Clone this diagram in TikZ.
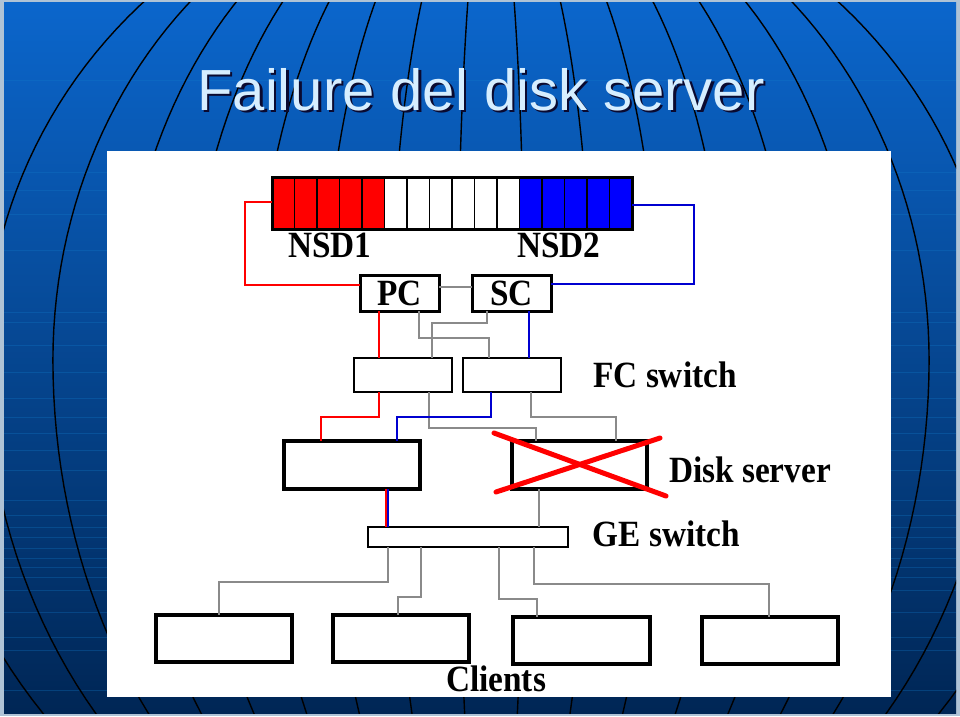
\documentclass[tikz,border=0pt]{standalone}
\usepackage{fontspec}
\usepackage{xcolor}
\usetikzlibrary{arrows.meta}
\newfontfamily\titlefont{Liberation Sans}
\newfontfamily\lblfont[FakeStretch=0.9]{Liberation Serif}
\definecolor{slidetop}{HTML}{0B66CC}
\definecolor{slidebot}{HTML}{002655}
\definecolor{slideedge}{HTML}{AFC3D6}
\definecolor{titlecol}{HTML}{D6EEFF}
\definecolor{titleshade}{HTML}{0A0A30}
\definecolor{wiregray}{HTML}{8A8A8A}
\definecolor{nsdred}{HTML}{FF0000}
\definecolor{nsdblue}{HTML}{0000FF}
\definecolor{wireblue}{HTML}{0000D0}
\newcommand\shadowtext[1]{\rlap{\raisebox{-2.5pt}{\hspace{2.5pt}\textcolor{titleshade}{#1}}}\textcolor{titlecol}{#1}}

\begin{document}
\begin{tikzpicture}[
    x=1pt, y=-1pt,
    every node/.style={inner sep=0pt, outer sep=0pt},
    box/.style={rectangle, draw=black, fill=white},
    cell/.style={rectangle, draw=black, line width=1.8pt, minimum width=22.5pt, minimum height=52pt},
    lbl/.style={font=\lblfont\bfseries\fontsize{37}{40}\selectfont},
    graywire/.style={draw=wiregray, line width=2.4pt},
    redwire/.style={draw=nsdred, line width=2pt},
    bluewire/.style={draw=wireblue, line width=2pt},
    meridian/.style={draw=black, line width=1.4pt},
    scanline/.style={draw=cyan!60!blue, opacity=0.3, line width=0.8pt}
]
\useasboundingbox (0,0) rectangle (960,716);

% slide background
\fill[slideedge] (0,0) rectangle (960,716);
\shade[top color=slidetop, bottom color=slidebot] (4,2) rectangle (956,713);
\begin{scope}
\clip (4,2) rectangle (956,713);
\foreach \y in {80,172,190,214,250,312,322,345,372,398,417,433,450,470,500,515,527,537,548,558,567,577,590,612,637,650,690}
  \draw[scanline] (4,\y) -- (956,\y);
% upper and lower halves of the globe lines
\foreach \k in {-7.5,-6.5,...,7.5}
  \draw[meridian] plot[domain=-90:0, samples=50, variable=\t]
    ({491+\k*67.4*cos(\t)}, {360+493*sin(\t)});
\foreach \k in {-8.5,-7.5,...,8.5}
  \draw[meridian] plot[domain=0:90, samples=50, variable=\t]
    ({491+\k*67.4*cos(\t)}, {360+567*sin(\t)});
\end{scope}

% title
\node[anchor=base, font=\titlefont\fontsize{58}{60}\selectfont] (title) at (481,110) {\shadowtext{Failure del disk server}};

% white panel
\node[fill=white, minimum width=784pt, minimum height=546pt] (panel) at (499,424) {};

% disk array
\foreach \i in {0,...,4}
  \node[cell, fill=nsdred] (r\i) at ({272+22.5*(\i+0.5)},203.5) {};
\foreach \i in {5,...,10}
  \node[cell, fill=white] (w\i) at ({272+22.5*(\i+0.5)},203.5) {};
\foreach \i in {11,...,15}
  \node[cell, fill=nsdblue] (b\i) at ({272+22.5*(\i+0.5)},203.5) {};
\node[draw=black, line width=3pt, minimum width=360pt, minimum height=52pt] (nsd) at (452,203.5) {};

\node[lbl] (nsd1) at (330,245) {NSD1};
\node[lbl] (nsd2) at (559,245) {NSD2};

% controllers
\node[box, lbl, line width=3pt, minimum width=79pt, minimum height=36pt] (pc) at (399.5,293) {PC};
\node[box, lbl, line width=3pt, minimum width=79pt, minimum height=36pt] (sc) at (511.5,293) {SC};

% FC switches
\node[box, line width=2.4pt, minimum width=98pt, minimum height=34pt] (fc1) at (403,375) {};
\node[box, line width=2.4pt, minimum width=98pt, minimum height=34pt] (fc2) at (512,375) {};
\node[lbl] (fclbl) at (665,375) {FC switch};

% disk servers
\node[box, line width=4.5pt, minimum width=136pt, minimum height=48pt] (ds1) at (352,465) {};
\node[box, line width=4.5pt, minimum width=135pt, minimum height=48pt] (ds2) at (579.5,465) {};
\node[lbl] (dslbl) at (750,470) {Disk server};

% GE switch
\node[box, line width=2pt, minimum width=200pt, minimum height=20pt] (ge) at (468,537) {};
\node[lbl] (gelbl) at (666.5,534) {GE switch};

% clients
\node[box, line width=4.5pt, minimum width=136pt, minimum height=47pt] (c1) at (224,638.5) {};
\node[box, line width=4.5pt, minimum width=136pt, minimum height=47pt] (c2) at (401,638.5) {};
\node[box, line width=4.5pt, minimum width=137pt, minimum height=47pt] (c3) at (581.5,640.5) {};
\node[box, line width=4.5pt, minimum width=136pt, minimum height=47pt] (c4) at (770,640.5) {};
\node[lbl] (clbl) at (496,679) {Clients};

% array to controllers
\draw[redwire] ([yshift=-24.5pt]nsd.north west) -- ++(-27,0) |- ([yshift=8pt]pc.west);
\draw[bluewire] ([yshift=-27.5pt]nsd.north east) -- ++(62,0) |- ([yshift=9pt]sc.east);
\draw[graywire] ([yshift=6pt]pc.east) -- ([yshift=6pt]sc.west);

% controllers to FC switches
\draw[redwire] ([xshift=-20.5pt]pc.south) -- ([xshift=-24pt]fc1.north);
\draw[graywire] ([xshift=19.5pt]pc.south) |- ([xshift=-23pt,yshift=20pt]fc2.north) -- ([xshift=-23pt]fc2.north);
\draw[graywire] ([xshift=-24.5pt]sc.south) |- ([xshift=29pt,yshift=35pt]fc1.north) -- ([xshift=29pt]fc1.north);
\draw[bluewire] ([xshift=17.5pt]sc.south) -- ([xshift=17pt]fc2.north);

% FC switches to disk servers
\draw[redwire] ([xshift=-24pt]fc1.south) |- ([xshift=-31pt,yshift=24pt]ds1.north) -- ([xshift=-31pt]ds1.north);
\draw[graywire] ([xshift=26pt]fc1.south) |- ([xshift=-43.5pt,yshift=13pt]ds2.north) -- ([xshift=-43.5pt]ds2.north);
\draw[bluewire] ([xshift=-21pt]fc2.south) |- ([xshift=45pt,yshift=24pt]ds1.north) -- ([xshift=45pt]ds1.north);
\draw[graywire] ([xshift=19pt]fc2.south) |- ([xshift=36.5pt,yshift=24pt]ds2.north) -- ([xshift=36.5pt]ds2.north);

% disk servers to GE switch
\draw[redwire] ([xshift=33.5pt]ds1.south) -- ([xshift=-82.5pt]ge.north);
\draw[bluewire] ([xshift=35.5pt]ds1.south) -- ([xshift=-80.5pt]ge.north);
\draw[graywire] ([xshift=-40.5pt]ds2.south) -- ([xshift=71pt]ge.north);

% GE switch to clients
\draw[graywire] ([xshift=-80pt]ge.south) |- ([xshift=-5pt,yshift=33pt]c1.north) -- ([xshift=-5pt]c1.north);
\draw[graywire] ([xshift=-47pt]ge.south) |- ([xshift=-3pt,yshift=18pt]c2.north) -- ([xshift=-3pt]c2.north);
\draw[graywire] ([xshift=31pt]ge.south) |- ([xshift=-44.5pt,yshift=18pt]c3.north) -- ([xshift=-44.5pt]c3.north);
\draw[graywire] ([xshift=66pt]ge.south) |- ([xshift=-1pt,yshift=33pt]c4.north) -- ([xshift=-1pt]c4.north);

% failed server
\draw[nsdred, line width=5pt, line cap=round] (494,433) -- (666,496);
\draw[nsdred, line width=5pt, line cap=round] (496,492) -- (660,438);

\end{tikzpicture}
\end{document}
